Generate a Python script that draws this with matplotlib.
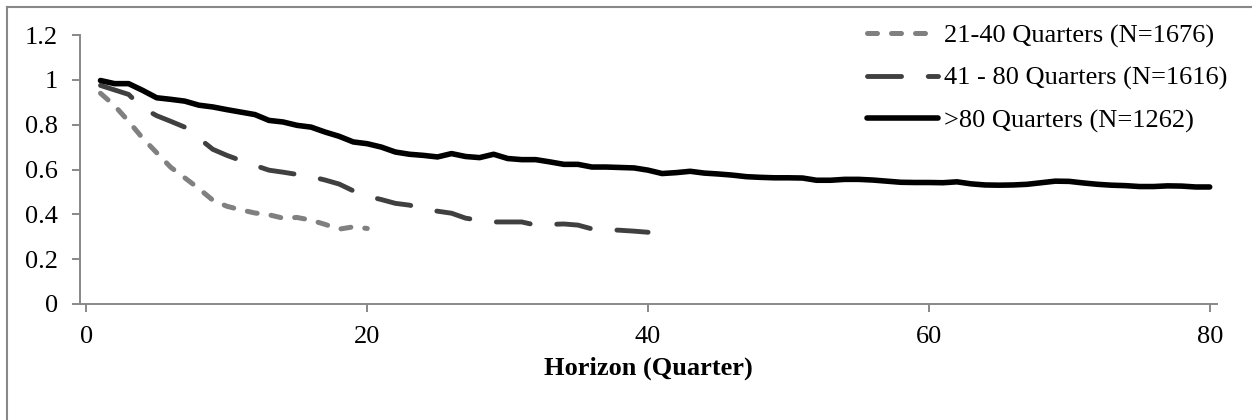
import matplotlib
matplotlib.use("Agg")
import matplotlib.pyplot as plt
from matplotlib.lines import Line2D
from matplotlib.ticker import FuncFormatter

# horizon in quarters
horizon_short = list(range(1, 21))
horizon_mid = list(range(1, 41))
horizon_long = list(range(1, 81))

# 21-40 quarters (N=1676)
y_short = [0.940, 0.885, 0.815, 0.740, 0.675, 0.610, 0.563, 0.515, 0.463, 0.436,
           0.420, 0.406, 0.398, 0.383, 0.386, 0.374, 0.355, 0.334, 0.344, 0.337]

# 41-80 quarters (N=1616)
y_mid = [0.975, 0.955, 0.935, 0.875, 0.840, 0.815, 0.789, 0.740, 0.690, 0.663,
         0.640, 0.618, 0.597, 0.588, 0.578, 0.568, 0.553, 0.535, 0.505, 0.481,
         0.466, 0.449, 0.441, 0.425, 0.414, 0.405, 0.383, 0.373, 0.366, 0.366,
         0.366, 0.352, 0.355, 0.357, 0.352, 0.335, 0.332, 0.329, 0.325, 0.320]

# >80 quarters (N=1262)
y_long = [0.997, 0.983, 0.983, 0.953, 0.920, 0.913, 0.905, 0.887, 0.879, 0.867,
          0.856, 0.845, 0.819, 0.812, 0.797, 0.789, 0.767, 0.748, 0.723, 0.715,
          0.700, 0.678, 0.668, 0.663, 0.656, 0.671, 0.658, 0.653, 0.668, 0.649,
          0.644, 0.644, 0.634, 0.623, 0.623, 0.611, 0.611, 0.609, 0.607, 0.597,
          0.582, 0.586, 0.592, 0.584, 0.580, 0.575, 0.568, 0.565, 0.563, 0.563,
          0.562, 0.552, 0.552, 0.556, 0.556, 0.553, 0.548, 0.543, 0.542, 0.542,
          0.541, 0.545, 0.536, 0.531, 0.530, 0.531, 0.534, 0.541, 0.548, 0.547,
          0.540, 0.534, 0.530, 0.528, 0.524, 0.524, 0.527, 0.526, 0.522, 0.522]

labels = ["21-40 Quarters (N=1676)", "41 - 80 Quarters (N=1616)", ">80 Quarters (N=1262)"]

plt.rcParams['font.family'] = ['Liberation Serif', 'DejaVu Serif']
FS = 19
W, H = 1252, 420

fig = plt.figure(figsize=(W / 100, H / 100), dpi=100)
ax = fig.add_axes([80 / W, (H - 304) / H, (1217 - 80) / W, (304 - 35) / H])

ax.plot(horizon_short, y_short, color='#808080', lw=3.6,
        linestyle=(0, (2.0, 2.8)), dash_capstyle='round', solid_capstyle='round',
        label=labels[0])
ax.plot(horizon_mid, y_mid, color='#404040', lw=3.5,
        linestyle=(0, (7.0, 5.5)), dash_capstyle='round', solid_capstyle='round',
        label=labels[1])
ax.plot(horizon_long, y_long, color='black', lw=4.0,
        solid_capstyle='round', solid_joinstyle='round', label=labels[2])

ax.set_xlim(-0.46, 80.52)
ax.set_ylim(0, 1.2)
ax.set_xticks([0, 20, 40, 60, 80])
ax.set_yticks([0, 0.2, 0.4, 0.6, 0.8, 1.0, 1.2])
ax.yaxis.set_major_formatter(FuncFormatter(lambda v, p: f"{v:g}"))

for s in ['top', 'right']:
    ax.spines[s].set_visible(False)
for s in ['left', 'bottom']:
    ax.spines[s].set_color('#888888')
    ax.spines[s].set_linewidth(1.4)
ax.tick_params(axis='both', direction='out', length=5.8, width=1.4,
               color='#888888', labelsize=FS, pad=10)

ax.set_xlabel("Horizon (Quarter)", fontsize=FS, fontweight='bold', labelpad=6)

leg = ax.legend(loc='upper right', bbox_to_anchor=(1227 / W, (H - 24) / H),
                bbox_transform=fig.transFigure, frameon=False, fontsize=FS,
                handlelength=2.7, handletextpad=0.2, labelspacing=0.7,
                borderpad=0, borderaxespad=0)

# outer chart border (only left and top edges are visible)
fig.add_artist(Line2D([7 / W, 7 / W], [0, (H - 7) / H], transform=fig.transFigure,
                      color='#888888', lw=1.5))
fig.add_artist(Line2D([7 / W, 1], [(H - 7) / H, (H - 7) / H], transform=fig.transFigure,
                      color='#888888', lw=1.5))

fig.savefig("out.png", dpi=100)
